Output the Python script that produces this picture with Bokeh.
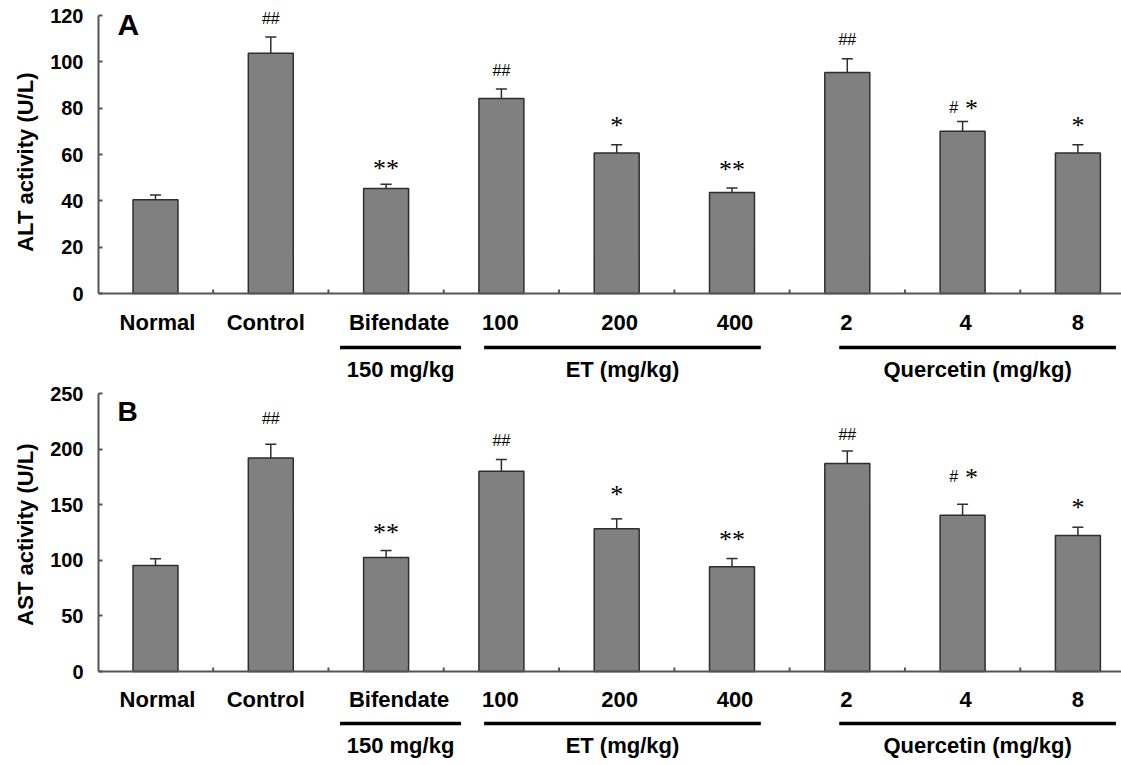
from bokeh.core.properties import value
from bokeh.embed import file_html
from bokeh.layouts import column
from bokeh.models import ColumnDataSource, FixedTicker, Range1d, Title
from bokeh.plotting import figure
from bokeh.resources import INLINE

# ---- data -------------------------------------------------------------
categories = ["Normal", "Control", "Bifendate", "100", "200", "400", "2", "4", "8"]

alt_mean = [40.5, 103.7, 45.3, 84.2, 60.7, 43.6, 95.4, 70.0, 60.7]
alt_sem = [2.0, 7.0, 1.9, 4.1, 3.5, 1.9, 5.9, 4.2, 3.5]

ast_mean = [95.4, 192.3, 102.6, 180.3, 128.4, 94.2, 187.2, 140.7, 122.4]
ast_sem = [6.0, 12.3, 6.3, 10.5, 9.0, 7.5, 11.4, 9.9, 7.5]

hash_marks = ["", "##", "", "##", "", "", "##", "#", ""]
star_marks = ["", "", "**", "", "*", "**", "", "*", "*"]

alt_ticks = [0, 20, 40, 60, 80, 100, 120]
ast_ticks = [0, 50, 100, 150, 200, 250]

# group captions: text, first and last category index
groups = [("150 mg/kg", 2, 2), ("ET (mg/kg)", 3, 5), ("Quercetin (mg/kg)", 6, 8)]

# ---- layout / style ----------------------------------------------------
W = 1121
FRAME_LEFT = 98
CAT_PX = 115.3            # pixels per category slot
FIRST_CENTER_PX = 155     # centre of first bar
BAR_W = 0.39
CAP_HALF = 0.048
AXIS_GREY = "#555555"
BAR_FILL = "#808080"
BAR_EDGE = "#2e2e2e"
FONT = "Liberation Sans"

x_start = -(FIRST_CENTER_PX - FRAME_LEFT) / CAT_PX
x_end = x_start + (W - FRAME_LEFT) / CAT_PX

# underline extents relative to first / last index of each group
group_pad = [(0.40, 0.65), (0.15, 0.25), (0.07, 0.33)]
# small horizontal nudges of the category captions (px)
label_nudge = [2, -5, 13, -1, 3, 3, -1, 3, 0]


def panel(means, sems, ticks, ylabel, letter, height, zero_px, top_px,
          lifts, cap_gap, line_gap, group_gap, letter_base_px, letter_size,
          ylabel_top_px):
    y_top = ticks[-1]
    s = (zero_px - top_px) / y_top          # px per data unit
    y_hi = zero_px / s
    y_lo = -(height - zero_px) / s

    def below(px):
        return -px / s

    def above_px(py):
        return (zero_px - py) / s

    p = figure(width=W, height=height, x_range=Range1d(x_start, x_end),
               y_range=Range1d(y_lo, y_hi), x_axis_type=None,
               toolbar_location=None, output_backend="svg",
               min_border_left=FRAME_LEFT, min_border_right=0,
               min_border_top=0, min_border_bottom=0)
    p.outline_line_color = None
    p.ygrid.grid_line_color = None
    p.background_fill_color = "white"
    p.border_fill_color = "white"

    ax = p.yaxis[0]
    ax.ticker = FixedTicker(ticks=ticks)
    ax.bounds = (0, y_top)
    ax.axis_line_color = AXIS_GREY
    ax.axis_line_width = 2
    ax.major_tick_line_color = AXIS_GREY
    ax.major_tick_line_width = 2
    ax.major_tick_in = 4
    ax.major_tick_out = 0
    ax.minor_tick_line_color = None
    ax.major_label_standoff = 15
    ax.major_label_text_font = FONT
    ax.major_label_text_font_style = "bold"
    ax.major_label_text_font_size = "20px"
    ax.major_label_text_color = "black"

    # y-axis title, anchored near the top of the value axis
    p.add_layout(Title(text=ylabel, align="right", offset=ylabel_top_px,
                       standoff=20, text_font=FONT, text_font_style="bold",
                       text_font_size="22px", text_color="black"), "left")

    idx = list(range(len(categories)))
    upper = [m + e for m, e in zip(means, sems)]

    p.vbar(x=idx, top=means, bottom=0, width=BAR_W, fill_color=BAR_FILL,
           line_color=BAR_EDGE, line_width=1.5)

    # upper error whiskers
    p.segment(x0=idx, y0=means, x1=idx, y1=upper, line_color=BAR_EDGE, line_width=1.5)
    p.segment(x0=[i - CAP_HALF for i in idx], y0=upper,
              x1=[i + CAP_HALF for i in idx], y1=upper,
              line_color=BAR_EDGE, line_width=1.5)

    # category axis line with small inward ticks between groups
    p.segment(x0=x_start, y0=0, x1=x_end + 1, y1=0, line_color=AXIS_GREY, line_width=2)
    bounds = [i + 0.5 for i in idx]
    p.segment(x0=bounds, y0=0, x1=bounds, y1=4 / s, line_color=AXIS_GREY, line_width=2)

    # significance marks
    hx, hy, ht, sx, sy, st, hoff, soff = [], [], [], [], [], [], [], []
    for i, (h, st_, u, lift) in enumerate(zip(hash_marks, star_marks, upper, lifts)):
        both = bool(h) and bool(st_)
        if h:
            hx.append(i); hy.append(u + lift / s); ht.append(h)
            hoff.append(-9 if both else 0)
        if st_:
            sx.append(i); sy.append(u + lift / s); st.append(st_)
            soff.append(9 if both else 0)
    p.text(x="x", y="y", text="t", x_offset="o",
           source=ColumnDataSource(dict(x=hx, y=hy, t=ht, o=hoff)),
           text_font=value(FONT), text_font_size="16px", text_color="black",
           text_align="center", text_baseline="middle")
    p.text(x="x", y="y", text="t", x_offset="o", y_offset=1,
           source=ColumnDataSource(dict(x=sx, y=sy, t=st, o=soff)),
           text_font=value("Liberation Serif"), text_font_size="26px",
           text_color="black", text_align="center", text_baseline="middle")

    # category captions
    p.text(x=idx, y=[below(cap_gap)] * len(idx), text=categories, x_offset=label_nudge,
           text_font=value(FONT), text_font_style="bold", text_font_size="22px",
           text_color="black", text_align="center", text_baseline="alphabetic")

    # group underlines and captions
    gx0 = [g[1] - pad[0] for g, pad in zip(groups, group_pad)]
    gx1 = [g[2] + pad[1] for g, pad in zip(groups, group_pad)]
    p.segment(x0=gx0, y0=below(line_gap), x1=gx1, y1=below(line_gap),
              line_color="black", line_width=3.5)
    p.text(x=[(a + b) / 2 for a, b in zip(gx0, gx1)], y=[below(group_gap)] * len(groups),
           text=[g[0] for g in groups],
           text_font=value(FONT), text_font_style="bold", text_font_size="22px",
           text_color="black", text_align="center", text_baseline="alphabetic")

    # panel letter
    p.text(x=[(117 - FIRST_CENTER_PX) / CAT_PX], y=[above_px(letter_base_px)], text=[letter],
           text_font=value(FONT), text_font_style="bold", text_font_size=letter_size,
           text_color="black", text_align="left", text_baseline="alphabetic")
    return p


pa = panel(alt_mean, alt_sem, alt_ticks, "ALT activity (U/L)", "A",
           height=383, zero_px=293, top_px=15,
           lifts=[0, 18.7, 17, 18.6, 20, 19.7, 19.5, 14.5, 20],
           cap_gap=29, line_gap=54, group_gap=76,
           letter_base_px=24.4, letter_size="30px", ylabel_top_px=72)

pb = panel(ast_mean, ast_sem, ast_ticks, "AST activity (U/L)", "B",
           height=382, zero_px=288, top_px=10.3,
           lifts=[0, 26, 18.7, 19, 25, 20, 16.3, 28, 20.7],
           cap_gap=28, line_gap=52, group_gap=74,
           letter_base_px=28.2, letter_size="28px", ylabel_top_px=60)

layout = column(pa, pb, spacing=0)
open("out.html", "w").write(file_html(layout, INLINE))
